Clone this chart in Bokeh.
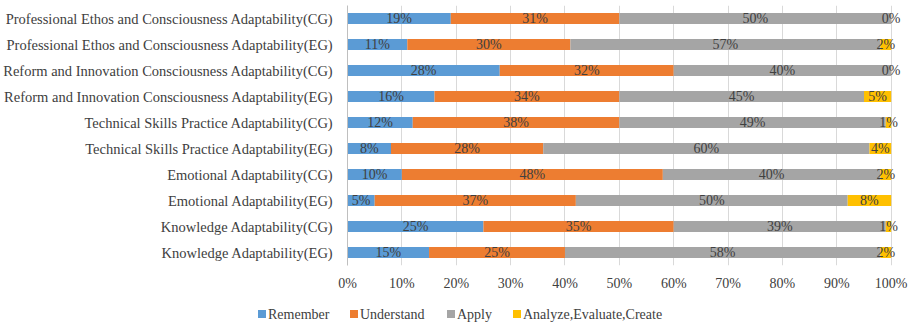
import numpy as np
from bokeh.plotting import figure
from bokeh.layouts import column
from bokeh.models import ColumnDataSource, FactorRange, FixedTicker, PrintfTickFormatter, Div
from bokeh.core.properties import value
from bokeh.embed import file_html
from bokeh.resources import INLINE

categories = [
    "Professional Ethos and Consciousness Adaptability(CG)",
    "Professional Ethos and Consciousness Adaptability(EG)",
    "Reform and Innovation Consciousness Adaptability(CG)",
    "Reform and Innovation Consciousness Adaptability(EG)",
    "Technical Skills Practice Adaptability(CG)",
    "Technical Skills Practice Adaptability(EG)",
    "Emotional Adaptability(CG)",
    "Emotional Adaptability(EG)",
    "Knowledge Adaptability(CG)",
    "Knowledge Adaptability(EG)",
]
remember   = [19, 11, 28, 16, 12, 8, 10, 5, 25, 15]
understand = [31, 30, 32, 34, 38, 28, 48, 37, 35, 25]
apply_     = [50, 57, 40, 45, 49, 60, 40, 50, 39, 58]
analyze    = [0, 2, 0, 5, 1, 4, 2, 8, 1, 2]
series_names = ["Remember", "Understand", "Apply", "Analyze,Evaluate,Create"]
colors = ["#5B9BD5", "#ED7D31", "#A5A5A5", "#FFC000"]
x_ticks = [0, 10, 20, 30, 40, 50, 60, 70, 80, 90, 100]

FONT = "Liberation Serif"
TXT = "#404040"

data = {"cat": categories, "Remember": remember, "Understand": understand,
        "Apply": apply_, "Analyze,Evaluate,Create": analyze}
src = ColumnDataSource(data)

p = figure(width=912, height=297, output_backend="svg", toolbar_location=None,
           y_range=FactorRange(factors=list(reversed(categories))),
           x_range=(0, 103))
p.min_border_left = 347
p.min_border_right = 5
p.min_border_top = 5
p.min_border_bottom = 32
p.outline_line_color = None

renderers = p.hbar_stack(series_names, y="cat", height=0.42, color=colors,
                         line_color=None, source=src)

vals = np.array([remember, understand, apply_, analyze], dtype=float)
cum = np.cumsum(vals, axis=0)
for i in range(4):
    centers = cum[i] - vals[i] / 2
    p.text(x=list(centers), y=categories, text=[f"{int(v)}%" for v in vals[i]],
           text_align="center", text_baseline="middle",
           text_font=value(FONT), text_font_size="14px", text_color=TXT)

p.xaxis.ticker = FixedTicker(ticks=x_ticks)
p.xaxis.formatter = PrintfTickFormatter(format="%d%%")
p.xaxis.axis_line_color = None
p.xaxis.major_tick_line_color = None
p.xaxis.major_tick_out = 0
p.xaxis.major_tick_in = 0
p.xaxis.minor_tick_line_color = None
p.xaxis.major_label_standoff = 10
p.xaxis.major_label_text_font = FONT
p.xaxis.major_label_text_font_size = "14px"
p.xaxis.major_label_text_color = TXT

p.yaxis.axis_line_color = "#BFBFBF"
p.yaxis.major_tick_line_color = None
p.yaxis.major_tick_out = 0
p.yaxis.major_tick_in = 0
p.yaxis.minor_tick_line_color = None
p.yaxis.major_label_standoff = 14
p.yaxis.major_label_text_font = FONT
p.yaxis.major_label_text_font_size = "14.5px"
p.yaxis.major_label_text_color = TXT

p.xgrid.grid_line_color = "#D9D9D9"
p.ygrid.grid_line_color = None

# legend strip drawn as inline SVG (serif text, placed under the chart)
legend_x = [258, 350, 447, 513]
svg = ['<svg xmlns="http://www.w3.org/2000/svg" width="912" height="28">']
for n, c, lx in zip(series_names, colors, legend_x):
    svg.append(f'<rect x="{lx}" y="13" width="8" height="8" fill="{c}"/>')
    svg.append(f'<text x="{lx + 10}" y="22" font-family="{FONT}" font-size="14px" '
               f'fill="{TXT}" style="font-family:{FONT}">{n}</text>')
svg.append('</svg>')
lg = Div(text="".join(svg), width=912, height=28, margin=0,
         styles={"margin": "0", "padding": "0"})

layout = column(p, lg, spacing=0)
open("out.html", "w").write(file_html(layout, INLINE))
